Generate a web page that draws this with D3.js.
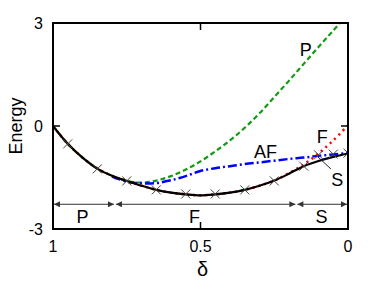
<!DOCTYPE html>
<html>
<head>
<meta charset="utf-8">
<script src="https://cdn.jsdelivr.net/npm/d3@7"></script>
<style>
  html, body { margin: 0; padding: 0; background: #fff; }
  svg text { font-family: "Liberation Sans", Arial, sans-serif; fill: #000; }
</style>
</head>
<body>
<div id="chart"></div>
<script>
// energy curves vs delta (delta runs 1 -> 0, left to right)
const deltas = [1, 0.95, 0.9, 0.85, 0.8, 0.75, 0.7, 0.65, 0.6, 0.55, 0.5,
                0.45, 0.4, 0.35, 0.3, 0.25, 0.2, 0.15, 0.1, 0.05, 0];
const groundE = [0, -0.52, -0.92, -1.24, -1.45, -1.6, -1.74, -1.86, -1.94, -1.99, -2.02,
                 -1.99, -1.94, -1.86, -1.74, -1.59, -1.39, -1.17, -1.02, -0.9, -0.8];
const paraE = [0, -0.52, -0.92, -1.24, -1.45, -1.6, -1.65, -1.59, -1.46, -1.27, -1.03,
               -0.74, -0.42, -0.05, 0.37, 0.84, 1.32, 1.81, 2.3, 2.78, 3.26];
const afDelta = [0.8, 0.75, 0.7, 0.65, 0.6, 0.55, 0.5, 0.45, 0.4, 0.35, 0.3, 0.25, 0.2, 0.15, 0.1, 0.05, 0];
const afE = [-1.47, -1.62, -1.67, -1.66, -1.58, -1.46, -1.31, -1.23, -1.17, -1.11, -1.06, -1.01, -0.96, -0.92, -0.87, -0.83, -0.79];
const ferroDelta = [1, 0.95, 0.9, 0.85, 0.8, 0.75, 0.7, 0.65, 0.6, 0.55, 0.5,
                    0.45, 0.4, 0.35, 0.3, 0.25, 0.2, 0.15, 0.1, 0.05, 0];
const ferroE = [0, -0.52, -0.92, -1.24, -1.45, -1.6, -1.74, -1.86, -1.94, -1.99, -2.02,
                -1.99, -1.94, -1.86, -1.74, -1.59, -1.37, -1.12, -0.8, -0.42, 0.02];
const markDelta = [0.95, 0.85, 0.75, 0.65, 0.55, 0.45, 0.35, 0.25, 0.15, 0.1, 0.05, 0];
const markE = [-0.52, -1.25, -1.6, -1.86, -1.98, -1.98, -1.86, -1.6, -1.17, -0.84, -0.82, -0.79];

const phaseBounds = [1, 0.79, 0.175, 0];
const phaseNames = ['P', 'F', 'S'];
const phaseLabelDelta = [0.9, 0.52, 0.09];

const yTicks = [3, 0, -3];
const xTicks = [1, 0.5, 0];
const xTickLabels = ['1', '0.5', '0'];

const W = 382, H = 282;
const margin = { top: 23, right: 34, bottom: 53, left: 53 };

const svg = d3.select('#chart').append('svg')
    .attr('width', W)
    .attr('height', H);

const x = d3.scaleLinear().domain([1, 0]).range([margin.left, W - margin.right]);
const y = d3.scaleLinear().domain([-3, 3]).range([H - margin.bottom, margin.top]);

svg.append('defs').append('clipPath')
    .attr('id', 'plot-clip')
    .append('rect')
    .attr('x', x(1)).attr('y', y(3))
    .attr('width', x(0) - x(1)).attr('height', y(-3) - y(3));

const marker = svg.select('defs').append('marker')
    .attr('id', 'arrow')
    .attr('viewBox', '0 0 10 10')
    .attr('refX', 10).attr('refY', 5)
    .attr('markerWidth', 9).attr('markerHeight', 6)
    .attr('markerUnits', 'userSpaceOnUse')
    .attr('orient', 'auto-start-reverse');
marker.append('path').attr('d', 'M0,0L10,5L0,10z').attr('fill', '#333');

const line = d3.line()
    .x(d => x(d[0]))
    .y(d => y(d[1]))
    .curve(d3.curveCatmullRom);

const plot = svg.append('g').attr('clip-path', 'url(#plot-clip)');

// P (paramagnetic) - green dashed
plot.append('path')
    .datum(d3.zip(deltas, paraE))
    .attr('d', line)
    .attr('fill', 'none')
    .attr('stroke', '#139a13')
    .attr('stroke-width', 2.2)
    .attr('stroke-dasharray', '5,3');

// AF - blue dash-dot
plot.append('path')
    .datum(d3.zip(afDelta, afE))
    .attr('d', line)
    .attr('fill', 'none')
    .attr('stroke', '#0000ff')
    .attr('stroke-width', 2.5)
    .attr('stroke-dasharray', '9,3,2,3');

// F - red dotted
plot.append('path')
    .datum(d3.zip(ferroDelta, ferroE))
    .attr('d', line)
    .attr('fill', 'none')
    .attr('stroke', '#ff0000')
    .attr('stroke-width', 2.5)
    .attr('stroke-dasharray', '2,4');

// ground state - black solid
plot.append('path')
    .datum(d3.zip(deltas, groundE))
    .attr('d', line)
    .attr('fill', 'none')
    .attr('stroke', '#000')
    .attr('stroke-width', 2.2);

// x markers
const ms = 4.5;
plot.selectAll('.mark')
    .data(d3.zip(markDelta, markE))
    .join('path')
    .attr('class', 'mark')
    .attr('d', d => {
        const cx = x(d[0]), cy = y(d[1]);
        return `M${cx - ms},${cy - ms}L${cx + ms},${cy + ms}M${cx - ms},${cy + ms}L${cx + ms},${cy - ms}`;
    })
    .attr('stroke', '#444')
    .attr('stroke-width', 1)
    .attr('fill', 'none');

// leader line to S label
svg.append('line')
    .attr('x1', x(0.102)).attr('y1', y(-0.9))
    .attr('x2', x(0.058)).attr('y2', y(-1.25))
    .attr('stroke', '#222')
    .attr('stroke-width', 1);

// phase range arrows
const arrowY = y(-2.28);
svg.selectAll('.phase-arrow')
    .data(d3.range(phaseNames.length))
    .join('line')
    .attr('class', 'phase-arrow')
    .attr('x1', i => x(phaseBounds[i]) + 1)
    .attr('x2', i => x(phaseBounds[i + 1]) - 1)
    .attr('y1', arrowY).attr('y2', arrowY)
    .attr('stroke', '#333')
    .attr('stroke-width', 1)
    .attr('marker-start', 'url(#arrow)')
    .attr('marker-end', 'url(#arrow)');

svg.selectAll('.phase-label')
    .data(phaseNames)
    .join('text')
    .attr('class', 'phase-label')
    .attr('x', (d, i) => x(phaseLabelDelta[i]))
    .attr('y', y(-2.83))
    .attr('text-anchor', 'middle')
    .style('font-size', '18px')
    .text(d => d);

// curve labels
const curveLabels = [
    { t: 'P', d: 0.143, e: 2.04 },
    { t: 'F', d: 0.087, e: -0.49 },
    { t: 'AF', d: 0.28, e: -0.93 },
    { t: 'S', d: 0.036, e: -1.74 }
];
svg.selectAll('.curve-label')
    .data(curveLabels)
    .join('text')
    .attr('class', 'curve-label')
    .attr('x', d => x(d.d))
    .attr('y', d => y(d.e))
    .attr('text-anchor', 'middle')
    .style('font-size', '18px')
    .text(d => d.t);

// frame
svg.append('rect')
    .attr('x', x(1)).attr('y', y(3))
    .attr('width', x(0) - x(1)).attr('height', y(-3) - y(3))
    .attr('fill', 'none')
    .attr('stroke', '#000')
    .attr('stroke-width', 2);

// inner ticks
const tickLen = 7;
svg.append('g').selectAll('line')
    .data([0])
    .join(enter => {
        enter.append('line')
            .attr('x1', x(1)).attr('x2', x(1) + tickLen)
            .attr('y1', d => y(d)).attr('y2', d => y(d));
        enter.append('line')
            .attr('x1', x(0)).attr('x2', x(0) - tickLen)
            .attr('y1', d => y(d)).attr('y2', d => y(d));
        return enter;
    });
svg.append('g').selectAll('line')
    .data([0.5])
    .join(enter => {
        enter.append('line')
            .attr('x1', d => x(d)).attr('x2', d => x(d))
            .attr('y1', y(-3)).attr('y2', y(-3) - tickLen);
        enter.append('line')
            .attr('x1', d => x(d)).attr('x2', d => x(d))
            .attr('y1', y(3)).attr('y2', y(3) + tickLen);
        return enter;
    });
svg.selectAll('g line').attr('stroke', '#000').attr('stroke-width', 1.5);

// tick labels
svg.selectAll('.ytick')
    .data(yTicks)
    .join('text')
    .attr('class', 'ytick')
    .attr('x', x(1) - 10)
    .attr('y', d => y(d) + 6)
    .attr('text-anchor', 'end')
    .style('font-size', '16px')
    .text(d => d);

svg.selectAll('.xtick')
    .data(xTicks)
    .join('text')
    .attr('class', 'xtick')
    .attr('x', d => x(d))
    .attr('y', y(-3) + 23)
    .attr('text-anchor', 'middle')
    .style('font-size', '16px')
    .text((d, i) => xTickLabels[i]);

// axis titles
svg.append('text')
    .attr('x', (x(1) + x(0)) / 2 + 2)
    .attr('y', 276)
    .attr('text-anchor', 'middle')
    .style('font-size', '20px')
    .text('δ');

svg.append('text')
    .attr('transform', `translate(22,${y(0)}) rotate(-90)`)
    .attr('text-anchor', 'middle')
    .style('font-size', '18px')
    .text('Energy');
</script>
</body>
</html>
